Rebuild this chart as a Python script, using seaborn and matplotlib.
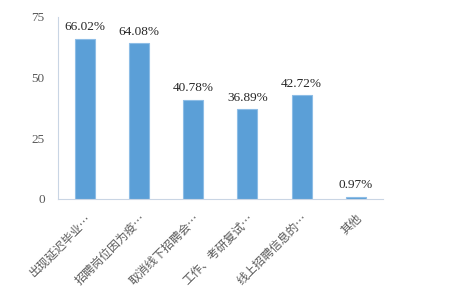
import matplotlib
matplotlib.use("Agg")
import matplotlib.pyplot as plt
import seaborn as sns
import pandas as pd
import numpy as np

categories = ["出现延迟毕业…", "招聘岗位因为疫…", "取消线下招聘会…",
              "工作、考研复试…", "线上招聘信息的…", "其他"]
values = [66.02, 64.08, 40.78, 36.89, 42.72, 0.97]
y_ticks = [0, 25, 50, 75]

sns.set_theme(style="white")
plt.rcParams["font.family"] = ["Noto Sans CJK SC", "DejaVu Sans"]

df = pd.DataFrame({"reason": categories, "share": values})

fig = plt.figure(figsize=(4.59, 2.96), dpi=100)
ax = fig.add_axes([0.126, 0.328, 0.708, 0.615])

sns.barplot(data=df, x="reason", y="share", color="#5B9FD7", width=0.37,
            edgecolor="#8DBDE6", linewidth=0.8, saturation=1, ax=ax)

ax.set_ylim(0, 75)
ax.set_xlim(-0.5, len(categories) - 0.5)
ax.set_yticks(y_ticks)
ax.set_xlabel("")
ax.set_ylabel("")

serif = ["Liberation Serif", "DejaVu Serif"]
ax.set_yticklabels([str(t) for t in y_ticks], fontfamily=serif,
                   fontsize=9.5, color="#595959")
ax.tick_params(axis="y", length=0, pad=9.5)

# category labels at bar centres, tick marks on category borders
ax.set_xticks(range(len(categories)))
ax.set_xticklabels(categories, rotation=45, ha="right", rotation_mode="anchor",
                   fontsize=8.5, color="#595959")
ax.tick_params(axis="x", which="major", length=0, pad=9)
ax.set_xticks(np.arange(-0.5, len(categories)), minor=True)
ax.tick_params(axis="x", which="minor", length=6, width=0.8,
               color="#C9D5E4", direction="out")

for side in ["top", "right"]:
    ax.spines[side].set_visible(False)
for side in ["left", "bottom"]:
    ax.spines[side].set_color("#C9D5E4")
    ax.spines[side].set_linewidth(0.8)

for cont in ax.containers:
    ax.bar_label(cont, labels=[f"{v:.2f}%" for v in values], padding=4,
                 fontsize=9.5, fontfamily=serif, color="#262626")

fig.savefig("out.png", dpi=100)
